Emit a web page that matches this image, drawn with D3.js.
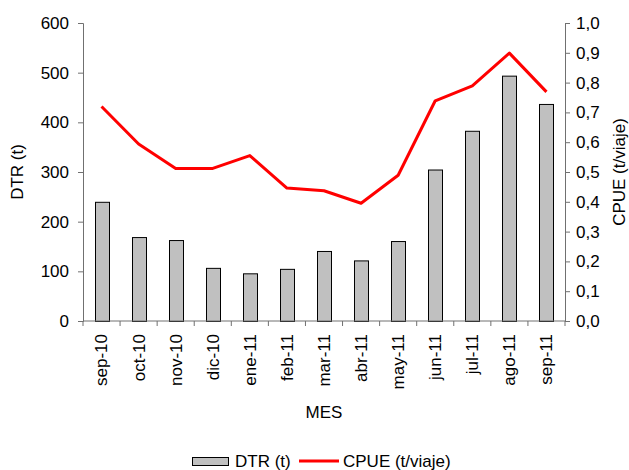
<!DOCTYPE html>
<html><head><meta charset="utf-8">
<script src="https://cdn.jsdelivr.net/npm/d3@7"></script>
<style>body{margin:0;background:#fff}svg{display:block;font-family:"Liberation Sans",Arial,sans-serif}</style>
</head><body>
<svg id="c" width="629" height="470"></svg>
<script>
const months = ["sep-10","oct-10","nov-10","dic-10","ene-11","feb-11","mar-11","abr-11","may-11","jun-11","jul-11","ago-11","sep-11"];
const dtr = [240,169,163,107,96,105,141,122,161,305,383,494,437];
const cpue = [0.72,0.594,0.512,0.512,0.555,0.446,0.437,0.395,0.489,0.739,0.789,0.899,0.769];
const leftTicks = [0,100,200,300,400,500,600];
const rightTicks = [0,0.1,0.2,0.3,0.4,0.5,0.6,0.7,0.8,0.9,1.0];

const svg = d3.select("#c");
const L = 83, R = 565, T = 23, B = 321;
const fs = 17;
const xb = d3.scaleBand().domain(months).range([L, R]);
const yL = d3.scaleLinear().domain([0,600]).range([B, T]);
const yR = d3.scaleLinear().domain([0,1]).range([B, T]);
const axisCol = "#707070";

// bars
svg.append("g").selectAll("rect").data(months).join("rect")
  .attr("x", d => Math.round(xb(d) + xb.bandwidth()/2 - 7) + 0.5)
  .attr("width", 14)
  .attr("y", (d,i) => yL(dtr[i]) + 0.5)
  .attr("height", (d,i) => B - yL(dtr[i]))
  .attr("fill", "#c0c0c0").attr("stroke", "#000").attr("stroke-width", 1);

// line
const line = d3.line().x((d,i) => xb(months[i]) + xb.bandwidth()/2).y(d => yR(d));
svg.append("path").datum(cpue).attr("d", line)
  .attr("fill", "none").attr("stroke", "#ff0000").attr("stroke-width", 3).attr("stroke-linejoin","round");

// left axis
const gl = svg.append("g").attr("transform", `translate(${L},0)`)
  .call(d3.axisLeft(yL).tickValues(leftTicks).tickSize(5).tickPadding(9));
// right axis
const gr = svg.append("g").attr("transform", `translate(${R},0)`)
  .call(d3.axisRight(yR).tickValues(rightTicks).tickSize(5).tickPadding(6).tickFormat(d => d3.format(".1f")(d).replace(".", ",")));
// bottom axis
const gb = svg.append("g").attr("transform", `translate(0,${B})`)
  .call(d3.axisBottom(xb).tickSize(0).tickPadding(0));
gb.selectAll(".tick text")
  .attr("transform", "rotate(-90)")
  .attr("text-anchor", "end")
  .attr("x", -13).attr("y", 0).attr("dy", "0.35em");
// category boundary ticks
gb.append("g").selectAll("line").data(d3.range(months.length + 1)).join("line")
  .attr("x1", i => L + i * xb.step()).attr("x2", i => L + i * xb.step())
  .attr("y1", 0).attr("y2", 5).attr("stroke", axisCol);

[gl, gr, gb].forEach(g => {
  g.selectAll(".domain").attr("stroke", axisCol);
  g.selectAll(".tick line").attr("stroke", axisCol);
  g.selectAll("text").attr("font-size", fs).attr("fill", "#000").attr("font-family", "Liberation Sans, Arial, sans-serif");
});
gb.select(".domain").attr("d", `M${L},0H${R}`);

// axis titles
svg.append("text").attr("transform", `translate(17,${(T+B)/2}) rotate(-90)`)
  .attr("text-anchor","middle").attr("dy","0.35em").attr("font-size", fs).text("DTR (t)");
svg.append("text").attr("transform", `translate(619,${(T+B)/2}) rotate(-90)`)
  .attr("text-anchor","middle").attr("dy","0.35em").attr("font-size", fs).text("CPUE (t/viaje)");
svg.append("text").attr("x", (L+R)/2).attr("y", 412).attr("text-anchor","middle").attr("dy","0.35em")
  .attr("font-size", fs).text("MES");

// legend
const lg = svg.append("g");
lg.append("rect").attr("x", 192.5).attr("y", 457.5).attr("width", 36).attr("height", 8)
  .attr("fill", "#c0c0c0").attr("stroke", "#000");
lg.append("text").attr("x", 235).attr("y", 461).attr("dy","0.35em").attr("font-size", fs).text("DTR (t)");
lg.append("line").attr("x1", 299).attr("x2", 339).attr("y1", 461).attr("y2", 461)
  .attr("stroke", "#ff0000").attr("stroke-width", 3);
lg.append("text").attr("x", 343).attr("y", 461).attr("dy","0.35em").attr("font-size", fs).text("CPUE (t/viaje)");
</script>
</body></html>
